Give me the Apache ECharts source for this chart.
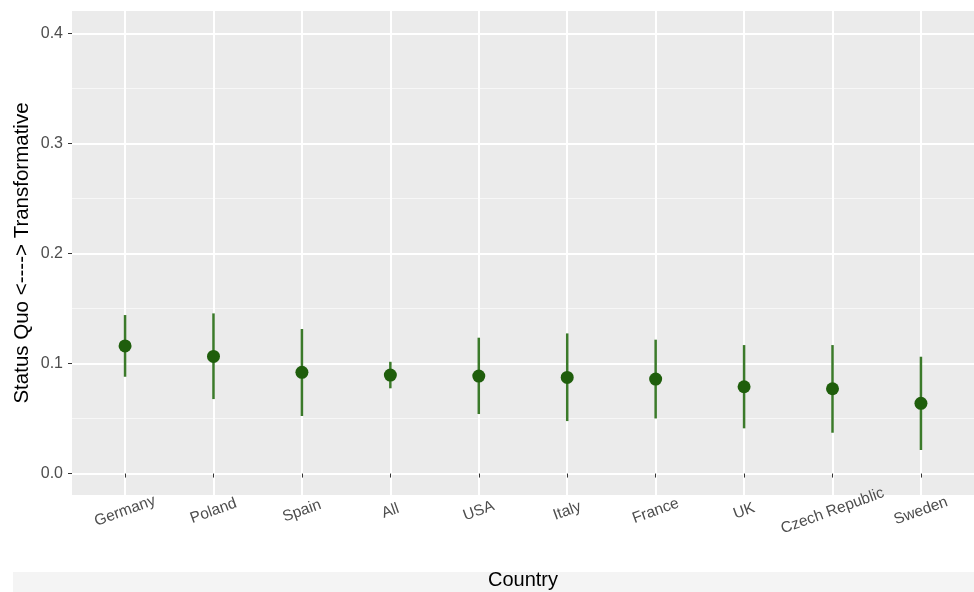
<!DOCTYPE html>
<html>
<head>
<meta charset="utf-8">
<script src="https://cdn.jsdelivr.net/npm/echarts@6/dist/echarts.min.js"></script>
<style>
  html, body { margin: 0; padding: 0; background: #fff; }
  #chart { width: 974px; height: 592px; }
</style>
</head>
<body>
<div id="chart"></div>
<script>
// Countries on the x axis, in plotted order
const countries = ['Germany', 'Poland', 'Spain', 'All', 'USA', 'Italy', 'France', 'UK', 'Czech Republic', 'Sweden'];
// Point estimates and interval bounds
const estimates = [0.116, 0.1065, 0.092, 0.0895, 0.0886, 0.0874, 0.0859, 0.0789, 0.0771, 0.0638];
const lowerBounds = [0.088, 0.0677, 0.0523, 0.0775, 0.0541, 0.0477, 0.0501, 0.0411, 0.0371, 0.0214];
const upperBounds = [0.1441, 0.1456, 0.1314, 0.1016, 0.1235, 0.1274, 0.1217, 0.1168, 0.1168, 0.1062];
// Y axis tick labels and minor grid positions
const yTicks = [0, 0.1, 0.2, 0.3, 0.4];
const yMinor = [0.05, 0.15, 0.25, 0.35];

const xPositions = countries.map((_, i) => i + 1);
const pointData = estimates.map((v, i) => [i + 1, v]);
const rangeData = lowerBounds.map((lo, i) => [i + 1, lo, upperBounds[i]]);

const yMin = -0.0195, yMax = 0.4205;
const tickColor = '#333333';
const labelColor = '#4d4d4d';
const font = '"Liberation Sans", Arial, sans-serif';

const chart = echarts.init(document.getElementById('chart'));
chart.setOption({
  animation: false,
  backgroundColor: '#ffffff',
  graphic: [{
    type: 'rect',
    left: 13, bottom: 0,
    shape: { width: 961, height: 20 },
    style: { fill: '#f4f4f4' },
    z: -10
  }],
  grid: {
    left: 72, right: 0, top: 11, bottom: 97,
    outerBoundsMode: 'none',
    containLabel: false,
    show: true, backgroundColor: '#ebebeb', borderWidth: 0
  },
  xAxis: {
    type: 'value',
    min: 0.4, max: 10.6,
    name: 'Country',
    nameLocation: 'middle',
    nameGap: 75,
    nameMoveOverlap: false,
    nameTextStyle: { fontFamily: font, fontSize: 20, color: '#000' },
    axisLine: { show: false },
    axisTick: { show: true, length: 4, customValues: xPositions, lineStyle: { color: tickColor, width: 1 } },
    axisLabel: {
      customValues: xPositions,
      formatter: v => countries[Math.round(v) - 1],
      rotate: 20,
      align: 'center',
      verticalAlign: 'middle',
      margin: 16,
      fontFamily: font,
      fontSize: 15.5,
      color: labelColor
    },
    splitLine: { show: true, lineStyle: { color: '#ffffff', width: 2 } }
  },
  yAxis: [{
    type: 'value',
    min: yMin, max: yMax,
    name: 'Status Quo <----> Transformative',
    nameLocation: 'middle',
    nameGap: 39,
    nameMoveOverlap: false,
    nameTextStyle: { fontFamily: font, fontSize: 20.5, color: '#000' },
    axisLine: { show: false },
    axisTick: { show: true, length: 4, customValues: yTicks, lineStyle: { color: tickColor, width: 1 } },
    axisLabel: {
      customValues: yTicks,
      formatter: v => v.toFixed(1),
      margin: 9,
      fontFamily: font,
      fontSize: 16,
      color: labelColor
    },
    splitLine: { show: true, lineStyle: { color: '#ffffff', width: 2 } }
  }, {
    type: 'value',
    min: yMin, max: yMax,
    axisLine: { show: false },
    axisTick: { show: false, customValues: yMinor },
    axisLabel: { show: false, customValues: yMinor },
    splitLine: { show: true, lineStyle: { color: '#f7f7f7', width: 1 } }
  }],
  series: [{
    type: 'custom',
    data: rangeData,
    z: 3,
    renderItem: (params, api) => {
      const x = api.value(0);
      const p1 = api.coord([x, api.value(1)]);
      const p2 = api.coord([x, api.value(2)]);
      return {
        type: 'line',
        shape: { x1: p1[0], y1: p1[1], x2: p2[0], y2: p2[1] },
        style: { stroke: '#3b7a2a', lineWidth: 2.5 }
      };
    }
  }, {
    type: 'scatter',
    data: pointData,
    symbol: 'circle',
    symbolSize: 13,
    z: 4,
    itemStyle: { color: '#1f5e0c', opacity: 1 }
  }]
});
</script>
</body>
</html>
